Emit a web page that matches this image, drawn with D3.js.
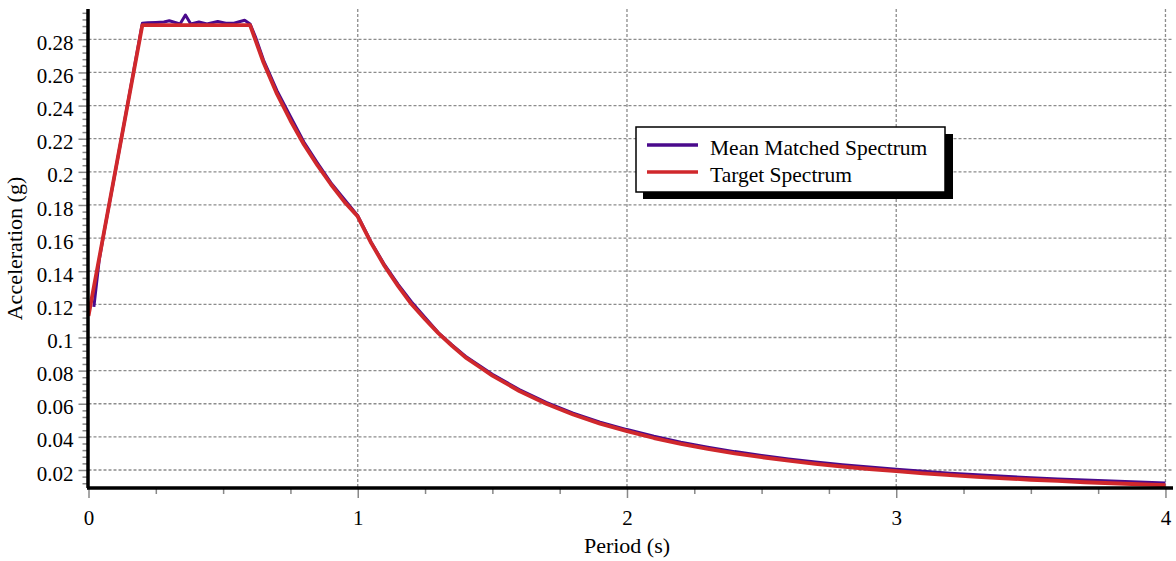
<!DOCTYPE html>
<html>
<head>
<meta charset="utf-8">
<script src="https://cdn.jsdelivr.net/npm/d3@7"></script>
<style>
    body { margin: 0; background: #fff; }
    svg text { font-family: "Liberation Serif", "Times New Roman", serif; fill: #000; }
</style>
</head>
<body>
<div id="chart"></div>
<script>
// Target spectrum
var targetPeriod = [0, 0.2, 0.6, 0.65, 0.7, 0.75, 0.8, 0.85, 0.9, 0.95, 1.0,
    1.05, 1.1, 1.15, 1.2, 1.25, 1.3, 1.35, 1.4, 1.45, 1.5, 1.6, 1.7, 1.8, 1.9, 2.0,
    2.1, 2.2, 2.3, 2.4, 2.5, 2.6, 2.7, 2.8, 2.9, 3.0, 3.1, 3.2, 3.3, 3.4, 3.5,
    3.6, 3.7, 3.8, 3.9, 4.0];
var targetAccel = [0.113, 0.2886, 0.2886, 0.266, 0.247, 0.231, 0.2165, 0.204, 0.1925, 0.182, 0.173,
    0.157, 0.143, 0.131, 0.120, 0.111, 0.1025, 0.095, 0.088, 0.0825, 0.077, 0.0677, 0.060, 0.0535, 0.048, 0.0435,
    0.0393, 0.0358, 0.0327, 0.030, 0.0277, 0.0256, 0.0237, 0.0221, 0.0206, 0.0193, 0.018, 0.0169, 0.0159, 0.015, 0.0141,
    0.0134, 0.0126, 0.012, 0.0114, 0.0108];

// Mean matched spectrum
var meanPeriod = [0.02, 0.04, 0.06, 0.1, 0.15, 0.2, 0.22, 0.25, 0.28, 0.30, 0.34, 0.36, 0.38,
    0.41, 0.44, 0.48, 0.51, 0.54, 0.58, 0.60, 0.62, 0.65, 0.7, 0.75, 0.8, 0.85, 0.9, 0.95, 1.0,
    1.05, 1.1, 1.15, 1.2, 1.25, 1.3, 1.35, 1.4, 1.45, 1.5, 1.6, 1.7, 1.8, 1.9, 2.0,
    2.1, 2.2, 2.3, 2.4, 2.5, 2.6, 2.7, 2.8, 2.9, 3.0, 3.1, 3.2, 3.3, 3.4, 3.5,
    3.6, 3.7, 3.8, 3.9, 4.0];
var meanAccel = [0.1185, 0.147, 0.1655, 0.2005, 0.245, 0.2897, 0.290, 0.2902, 0.2905, 0.2912, 0.2893, 0.2947, 0.2893,
    0.2905, 0.2893, 0.2908, 0.2897, 0.2897, 0.2915, 0.2893, 0.2815, 0.2675, 0.249, 0.2335, 0.218, 0.2055, 0.1935, 0.1835, 0.1735,
    0.1575, 0.1438, 0.132, 0.1215, 0.112, 0.1028, 0.0955, 0.0887, 0.0832, 0.0778, 0.0685, 0.0608, 0.0543, 0.0489, 0.0444,
    0.0404, 0.0368, 0.0338, 0.0311, 0.0288, 0.0267, 0.0249, 0.0232, 0.0218, 0.0205, 0.0192, 0.0181, 0.0171, 0.0162, 0.0153,
    0.0146, 0.0139, 0.0133, 0.0127, 0.0122];

// Ticks
var xMajor = [0, 1, 2, 3, 4];
var xMinor = [0.25, 0.5, 0.75, 1.25, 1.5, 1.75, 2.25, 2.5, 2.75, 3.25, 3.5, 3.75];
var yMajor = [0.02, 0.04, 0.06, 0.08, 0.1, 0.12, 0.14, 0.16, 0.18, 0.2, 0.22, 0.24, 0.26, 0.28];
var yMinor = [0.012, 0.016, 0.024, 0.028, 0.032, 0.036, 0.044, 0.048, 0.052, 0.056, 0.064, 0.068, 0.072, 0.076,
    0.084, 0.088, 0.092, 0.096, 0.104, 0.108, 0.112, 0.116, 0.124, 0.128, 0.132, 0.136, 0.144, 0.148, 0.152, 0.156,
    0.164, 0.168, 0.172, 0.176, 0.184, 0.188, 0.192, 0.196, 0.204, 0.208, 0.212, 0.216, 0.224, 0.228, 0.232, 0.236,
    0.244, 0.248, 0.252, 0.256, 0.264, 0.268, 0.272, 0.276, 0.284, 0.288, 0.292, 0.296];

var series = [
    { name: 'Mean Matched Spectrum', period: meanPeriod, accel: meanAccel, color: '#4a0a8c', width: 3 },
    { name: 'Target Spectrum', period: targetPeriod, accel: targetAccel, color: '#d0282c', width: 3.8 }
];

var width = 1176,
    height = 561,
    plotLeft = 88.5,
    plotRight = 1173,
    plotTop = 9,
    plotBottom = 488,
    fontSize = 21,
    titleSize = 22;

var svg = d3.select('#chart')
    .append('svg')
    .attr('width', width)
    .attr('height', height)
    .attr('font-family', '"Liberation Serif", "Times New Roman", serif');

var x = d3.scaleLinear().domain([0, 4.028]).range([plotLeft, plotRight]);
var y = d3.scaleLinear().domain([0.00913, 0.2983]).range([plotBottom, plotTop]);

// dashed grid
var grid = svg.append('g').attr('class', 'grid')
    .attr('stroke', '#8c8c8c')
    .attr('stroke-width', 1.3)
    .attr('stroke-dasharray', '3,2');
grid.selectAll('line.h')
    .data(yMajor)
    .enter()
    .append('line')
        .attr('x1', plotLeft).attr('x2', plotRight)
        .attr('y1', function(d) { return y(d); })
        .attr('y2', function(d) { return y(d); });
grid.selectAll('line.v')
    .data(xMajor.slice(1))
    .enter()
    .append('line')
        .attr('y1', plotTop).attr('y2', plotBottom)
        .attr('x1', function(d) { return x(d); })
        .attr('x2', function(d) { return x(d); });

// tick marks (gray) through d3 axes, labels added by the major axes
function styleAxis(g) {
    g.attr('font-family', null);
    g.select('.domain').remove();
    g.selectAll('.tick line').attr('stroke', '#888').attr('stroke-width', 1.5);
    g.selectAll('.tick text').attr('font-size', fontSize);
}

svg.append('g')
    .attr('transform', 'translate(0,' + plotBottom + ')')
    .call(d3.axisBottom(x).tickValues(xMinor).tickSize(6).tickFormat(''))
    .call(styleAxis);
svg.append('g')
    .attr('transform', 'translate(0,' + plotBottom + ')')
    .call(d3.axisBottom(x).tickValues(xMajor).tickSize(10).tickPadding(12).tickFormat(d3.format('d')))
    .call(styleAxis);
svg.append('g')
    .attr('transform', 'translate(' + plotLeft + ',0)')
    .call(d3.axisLeft(y).tickValues(yMinor).tickSize(6).tickFormat(''))
    .call(styleAxis);
svg.append('g')
    .attr('transform', 'translate(' + plotLeft + ',0)')
    .call(d3.axisLeft(y).tickValues(yMajor).tickSize(10).tickPadding(5)
        .tickFormat(function(d) { return String(+d.toFixed(2)); }))
    .call(styleAxis)
    .selectAll('.tick text').attr('dy', '0.48em');

// curves
var line = d3.line()
    .x(function(d) { return x(d[0]); })
    .y(function(d) { return y(d[1]); });

svg.append('g').attr('class', 'curves')
    .selectAll('path')
    .data(series)
    .enter()
    .append('path')
        .attr('fill', 'none')
        .attr('stroke', function(d) { return d.color; })
        .attr('stroke-width', function(d) { return d.width; })
        .attr('stroke-linejoin', 'round')
        .attr('d', function(d) { return line(d3.zip(d.period, d.accel)); });

// black axis lines
svg.append('line')
    .attr('x1', plotLeft - 1.5).attr('x2', plotRight)
    .attr('y1', plotBottom).attr('y2', plotBottom)
    .attr('stroke', '#000').attr('stroke-width', 3.5);
svg.append('line')
    .attr('x1', plotLeft - 0.5).attr('x2', plotLeft - 0.5)
    .attr('y1', plotTop).attr('y2', plotBottom)
    .attr('stroke', '#000').attr('stroke-width', 3.5);

// axis titles
svg.append('text')
    .attr('x', (x(0) + x(4)) / 2)
    .attr('y', 553)
    .attr('text-anchor', 'middle')
    .attr('font-size', titleSize)
    .text('Period (s)');
svg.append('text')
    .attr('transform', 'translate(22,' + ((plotTop + plotBottom) / 2) + ') rotate(-90)')
    .attr('text-anchor', 'middle')
    .attr('font-size', titleSize)
    .text('Acceleration (g)');

// legend with drop shadow
var legend = svg.append('g').attr('class', 'legend');
legend.append('rect')
    .attr('x', 643).attr('y', 134)
    .attr('width', 310).attr('height', 65)
    .attr('fill', '#000');
legend.append('rect')
    .attr('x', 636).attr('y', 127)
    .attr('width', 309).attr('height', 65)
    .attr('fill', '#fff')
    .attr('stroke', '#000')
    .attr('stroke-width', 1.5);
var item = legend.selectAll('g.item')
    .data(series)
    .enter()
    .append('g')
        .attr('class', 'item')
        .attr('transform', function(d, i) { return 'translate(0,' + (145 + i * 27) + ')'; });
item.append('line')
    .attr('x1', 647).attr('x2', 698)
    .attr('stroke', function(d) { return d.color; })
    .attr('stroke-width', 3.5);
item.append('text')
    .attr('x', 710)
    .attr('y', 9.5)
    .attr('font-size', 21.5)
    .text(function(d) { return d.name; });
</script>
</body>
</html>
